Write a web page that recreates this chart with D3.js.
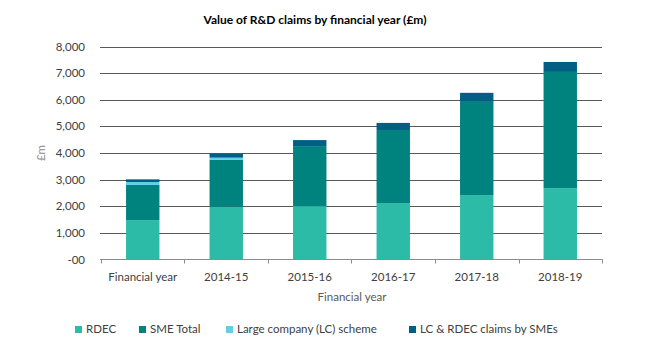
<!DOCTYPE html>
<html><head><meta charset="utf-8">
<script src="https://cdn.jsdelivr.net/npm/d3@7"></script>
<style>body{margin:0;background:#fff;} svg{display:block;font-family:Lato,"Open Sans",sans-serif;}</style>
</head><body>
<svg id="chart" width="652" height="362"></svg>
<script>
const categories = ["Financial year","2014-15","2015-16","2016-17","2017-18","2018-19"];
const seriesNames = ["RDEC","SME Total","Large company (LC) scheme","LC & RDEC claims by SMEs"];
const rdec = [1480,1980,2005,2120,2420,2680];
const smeTotal = [1320,1770,2255,2745,3500,4365];
const lcScheme = [110,75,0,0,0,0];
const lcRdecSme = [100,150,225,265,340,375];
const yTicks = [0,1000,2000,3000,4000,5000,6000,7000,8000];
const colors = ["#2BBBA6","#00827F","#66CDE8","#005F83"];

const svg = d3.select("#chart");
const x = d3.scaleBand().domain(categories).range([101,602]).paddingInner(0.6).paddingOuter(0.3);
const y = d3.scaleLinear().domain([0,8000]).range([259.5,46.5]);

const rows = categories.map((c,i)=>({cat:c, "RDEC":rdec[i], "SME Total":smeTotal[i], "Large company (LC) scheme":lcScheme[i], "LC & RDEC claims by SMEs":lcRdecSme[i]}));
const stack = d3.stack().keys(seriesNames)(rows);

// gridlines
svg.append("g").selectAll("line").data(yTicks.filter(d=>d>0)).join("line")
  .attr("x1",100).attr("x2",602).attr("y1",d=>Math.round(y(d))+0.5).attr("y2",d=>Math.round(y(d))+0.5)
  .attr("stroke","#595959").attr("stroke-width",1);

// y labels
svg.append("g").selectAll("text").data(yTicks).join("text")
  .attr("x",85).attr("y",d=>y(d)+4).attr("text-anchor","end")
  .attr("font-size",11.5).attr("fill","#404040")
  .text(d=>d===0?"-00":d3.format(",")(d));

// bars
svg.append("g").selectAll("g").data(stack).join("g").attr("fill",(d,i)=>colors[i])
  .selectAll("rect").data(d=>d).join("rect")
  .attr("x",d=>x(d.data.cat)).attr("width",x.bandwidth())
  .attr("y",d=>y(d[1])).attr("height",d=>Math.max(0,y(d[0])-y(d[1])));

// x axis
const xa = svg.append("g").attr("transform","translate(0,259.5)");
xa.append("line").attr("x1",100).attr("x2",602.5).attr("stroke","#8c8c8c");
const tickPos = categories.map(c=>x(c)-x.step()*x.paddingInner()/2).concat([602]);
tickPos[0]=101;
xa.selectAll("line.t").data(tickPos).join("line").attr("class","t")
  .attr("x1",d=>Math.round(d)+0.5).attr("x2",d=>Math.round(d)+0.5).attr("y1",0).attr("y2",4).attr("stroke","#8c8c8c");
xa.selectAll("text").data(categories).join("text")
  .attr("x",d=>x(d)+x.bandwidth()/2).attr("y",21).attr("text-anchor","middle")
  .attr("font-size",11.5).attr("fill","#404040").text(d=>d);

// axis titles
svg.append("text").attr("x",352).attr("y",301).attr("text-anchor","middle").attr("font-size",11.5).attr("fill","#595959").text("Financial year");
svg.append("text").attr("transform","translate(45,153) rotate(-90)").attr("text-anchor","middle").attr("font-size",11.5).attr("fill","#8c8c8c").text("£m");

// title
svg.append("text").attr("x",315).attr("y",24).attr("text-anchor","middle").attr("font-size",12).attr("font-weight","bold").attr("fill","#000").text("Value of R&D claims by financial year (£m)");

// legend
const legX = [75,139,226,409];
const lg = svg.append("g").selectAll("g").data(seriesNames).join("g").attr("transform",(d,i)=>`translate(${legX[i]},333)`);
lg.append("rect").attr("x",0).attr("y",-7).attr("width",7).attr("height",7).attr("fill",(d,i)=>colors[i]);
lg.append("text").attr("x",11).attr("y",0).attr("font-size",11.5).attr("fill","#404040").text(d=>d);
</script>
</body></html>
